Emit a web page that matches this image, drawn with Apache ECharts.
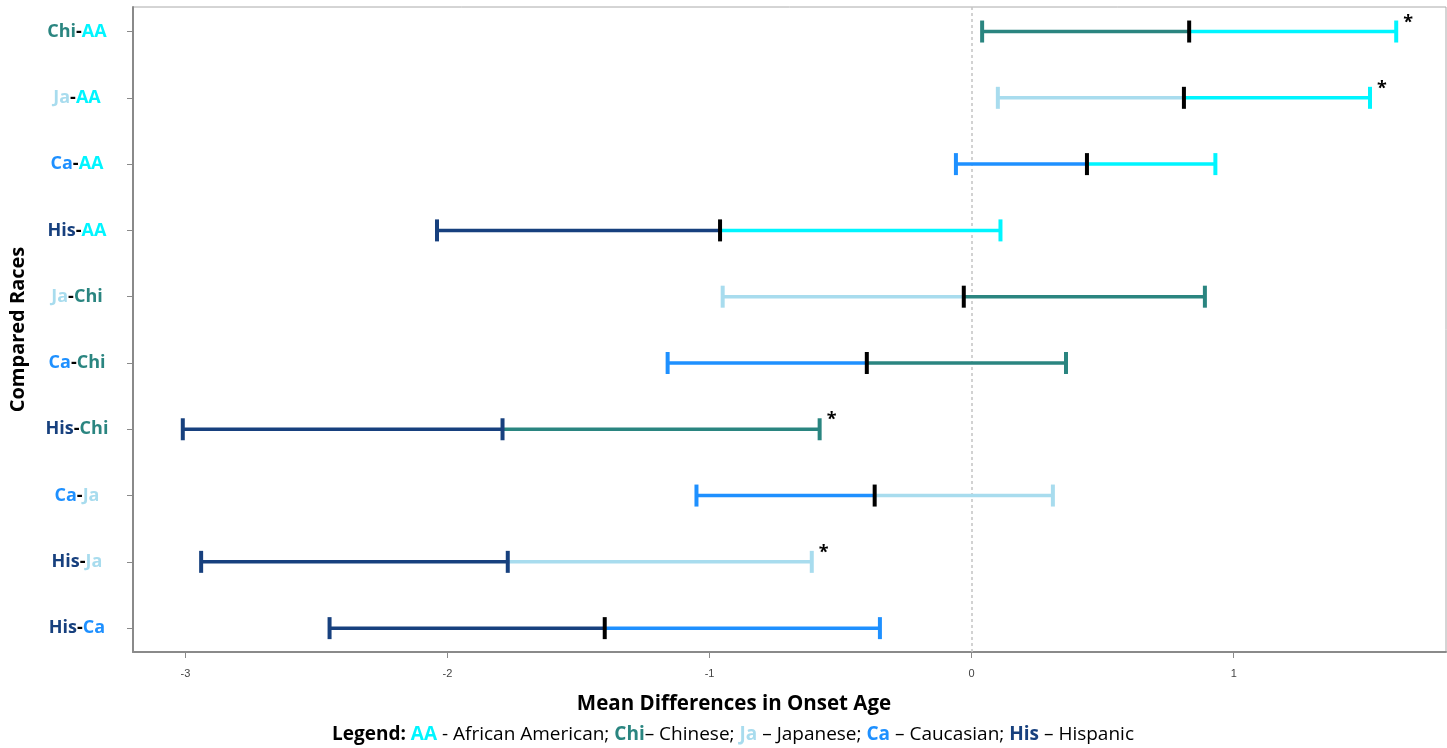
<!DOCTYPE html>
<html>
<head>
<meta charset="utf-8">
<style>
  html, body { margin: 0; padding: 0; background: #fff; }
  #chart { width: 1447px; height: 748px; }
</style>
<script src="https://cdn.jsdelivr.net/npm/echarts@6/dist/echarts.min.js"></script>
</head>
<body>
<div id="chart"></div>
<script>
// compared pairs, top to bottom
const categories = ["Chi-AA", "Ja-AA", "Ca-AA", "His-AA", "Ja-Chi", "Ca-Chi", "His-Chi", "Ca-Ja", "His-Ja", "His-Ca"];
// lower CI, mean difference, upper CI
const lows = [0.04, 0.10, -0.06, -2.04, -0.95, -1.16, -3.01, -1.05, -2.94, -2.45];
const means = [0.83, 0.81, 0.44, -0.96, -0.03, -0.40, -1.79, -0.37, -1.77, -1.40];
const highs = [1.62, 1.52, 0.93, 0.11, 0.89, 0.36, -0.58, 0.31, -0.61, -0.35];
const significant = [true, true, false, false, false, false, true, false, true, false];
const xTicks = [-3, -2, -1, 0, 1];

const raceColors = {
  AA: "#00F5FF",
  Chi: "#2A8580",
  Ja: "#A8DCEE",
  Ca: "#1E90FF",
  His: "#17407E",
};
// rows where the mean marker takes the first race colour instead of black
const coloredMeanRows = ["His-Chi", "His-Ja"];

const FONT = "Open Sans";

const richStyles = { dash: { color: "#000", fontWeight: "bold", fontSize: 18, fontFamily: FONT } };
Object.keys(raceColors).forEach((k) => {
  richStyles[k] = { color: raceColors[k], fontWeight: "bold", fontSize: 18, fontFamily: FONT };
});

const data = categories.map((c, i) => [i, lows[i], means[i], highs[i], significant[i] ? 1 : 0]);
const rowTicks = categories.map((c, i) => i);

function renderItem(params, api) {
  const idx = api.value(0);
  const name = categories[idx];
  const [a, b] = name.split("-");
  const pLow = api.coord([api.value(1), idx]);
  const pMean = api.coord([api.value(2), idx]);
  const pHigh = api.coord([api.value(3), idx]);
  const y = pLow[1];
  const cLeft = raceColors[a];
  const cRight = raceColors[b];
  const meanColor = coloredMeanRows.indexOf(name) >= 0 ? cLeft : "#000";
  const children = [
    { type: "line", shape: { x1: pLow[0], y1: y, x2: pMean[0], y2: y }, style: { stroke: cLeft, lineWidth: 3.5 } },
    { type: "line", shape: { x1: pMean[0], y1: y, x2: pHigh[0], y2: y }, style: { stroke: cRight, lineWidth: 3.5 } },
    { type: "line", shape: { x1: pLow[0], y1: y - 11, x2: pLow[0], y2: y + 11 }, style: { stroke: cLeft, lineWidth: 4 } },
    { type: "line", shape: { x1: pHigh[0], y1: y - 11, x2: pHigh[0], y2: y + 11 }, style: { stroke: cRight, lineWidth: 4 } },
    { type: "line", shape: { x1: pMean[0], y1: y - 11, x2: pMean[0], y2: y + 11 }, style: { stroke: meanColor, lineWidth: 4 } },
  ];
  if (api.value(4)) {
    children.push({
      type: "text",
      style: {
        text: "*",
        x: pHigh[0] + 7,
        y: y - 18,
        fill: "#000",
        font: "bold 18px " + FONT,
        textAlign: "left",
        textVerticalAlign: "top",
      },
    });
  }
  return { type: "group", children: children };
}

const chart = echarts.init(document.getElementById("chart"), null, { renderer: "canvas" });

const legendRich = { b: { fontWeight: "bold", fontSize: 19, fontFamily: FONT, fill: "#000" } };
Object.keys(raceColors).forEach((k) => {
  legendRich[k] = { fontWeight: "bold", fontSize: 19, fontFamily: FONT, fill: raceColors[k] };
});

const option = {
  animation: false,
  backgroundColor: "#fff",
  grid: {
    left: 133,
    right: 1,
    top: 7,
    bottom: 96,
    show: true,
    borderColor: "#aaa",
    borderWidth: 1,
    outerBoundsMode: "none",
    containLabel: false,
  },
  xAxis: {
    type: "value",
    min: -3.2,
    max: 1.81,
    splitLine: { show: false },
    axisLine: { show: true, onZero: false, lineStyle: { color: "#8a8a8a", width: 2 } },
    axisTick: { show: true, length: 6, customValues: xTicks, lineStyle: { color: "#8a8a8a" } },
    axisLabel: {
      customValues: xTicks,
      margin: 16,
      fontSize: 11,
      color: "#444",
      fontFamily: "Liberation Sans",
    },
  },
  yAxis: {
    type: "value",
    inverse: true,
    min: -0.37,
    max: 9.36,
    splitLine: { show: false },
    axisLine: { show: true, onZero: false, lineStyle: { color: "#8a8a8a", width: 2 } },
    axisTick: { show: true, length: 6, customValues: rowTicks, lineStyle: { color: "#8a8a8a" } },
    axisLabel: {
      customValues: rowTicks,
      margin: 56,
      align: "center",
      formatter: (v) => {
        const parts = categories[Math.round(v)].split("-");
        return "{" + parts[0] + "|" + parts[0] + "}{dash|-}{" + parts[1] + "|" + parts[1] + "}";
      },
      rich: richStyles,
    },
    name: "Compared Races",
    nameLocation: "middle",
    nameRotate: 90,
    nameGap: 105,
    nameTextStyle: { fontSize: 20, fontWeight: "bold", color: "#000", fontFamily: FONT },
  },
  graphic: [
    {
      type: "text",
      x: 734,
      y: 704,
      style: {
        text: "Mean Differences in Onset Age",
        font: "bold 20.5px " + FONT,
        fill: "#000",
        textAlign: "center",
        textVerticalAlign: "middle",
      },
    },
    {
      type: "text",
      x: 733,
      y: 735,
      style: {
        text:
          "{b|Legend:} {AA|AA} - African American; {Chi|Chi}– Chinese; {Ja|Ja} – Japanese; {Ca|Ca} – Caucasian; {His|His} – Hispanic",
        font: "19px " + FONT,
        fill: "#000",
        textAlign: "center",
        textVerticalAlign: "middle",
        rich: legendRich,
      },
    },
  ],
  series: [
    {
      type: "custom",
      renderItem: renderItem,
      data: data,
      encode: { x: [1, 2, 3], y: 0 },
      clip: false,
      z: 3,
      markLine: {
        silent: true,
        symbol: "none",
        label: { show: false },
        lineStyle: { color: "#c4c4c4", type: [3, 3], width: 1.5 },
        data: [{ xAxis: 0 }],
        z: 1,
      },
    },
  ],
};

chart.setOption(option);
</script>
</body>
</html>
